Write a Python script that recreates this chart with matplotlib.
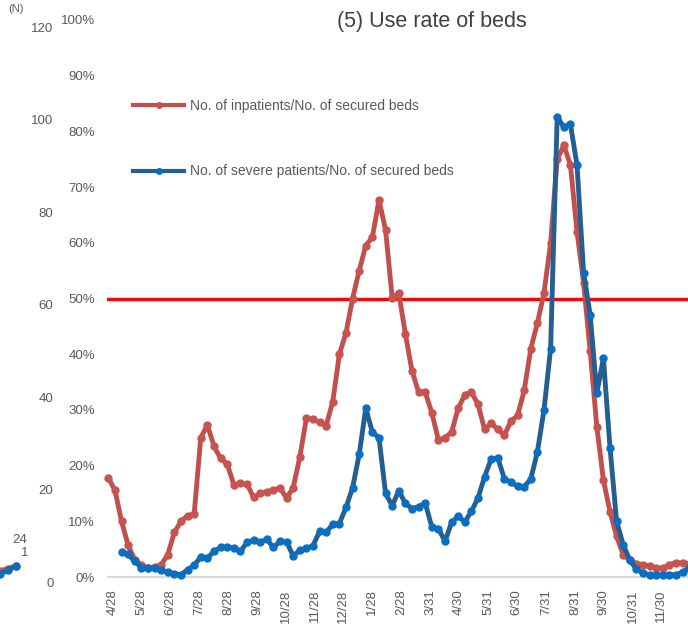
import numpy as np
import pandas as pd
import matplotlib
matplotlib.use("Agg")
import matplotlib.pyplot as plt
import matplotlib.dates as mdates
from matplotlib.lines import Line2D

plt.rcParams['font.family'] = ['Liberation Sans', 'DejaVu Sans']

# weekly values (%) starting 2020-04-23
inpatient_rate = [17.8, 15.6, 10, 5.7, 3.1, 2.2, 1.6, 1.8, 2.2, 4,
                  8, 10, 11, 11.3, 25, 27.3, 23.5, 21.3, 20.3, 16.6,
                  16.8, 16.7, 14.3, 15, 15.3, 15.6, 16, 14.2, 16, 21.5,
                  28.5, 28.3, 27.8, 27.2, 31.5, 40, 43.8, 50, 55, 59.5,
                  61, 67.7, 62.3, 50.1, 51, 43.6, 37, 33.2, 33.2, 29.5,
                  24.6, 25, 26, 30.3, 32.7, 33.2, 31, 26.5, 27.6, 26.5,
                  25.5, 28, 29, 33.5, 41, 45.6, 51, 60, 75, 77.5,
                  74, 62, 52.8, 40.5, 27, 17.4, 11.7, 7.3, 4, 3,
                  2.4, 2.2, 2, 1.6, 1.6, 2.2, 2.6, 2.5, 2.3]
# severe patients start two weeks later
severe_rate = [4.5, 4.1, 2.8, 1.7, 1.6, 1.6, 1.2, 0.9,
               0.6, 0.4, 1.3, 2.1, 3.6, 3.4, 4.6, 5.3, 5.4, 5.2,
               4.6, 6.2, 6.6, 6.2, 6.8, 5.3, 6.4, 6.3, 3.8, 4.8,
               5.2, 5.6, 8.2, 8.0, 9.5, 9.6, 12.5, 16, 22, 30.3,
               26, 25, 15, 12.8, 15.5, 13.2, 12.3, 12.6, 13.3, 9,
               8.7, 6.4, 9.8, 10.9, 9.9, 11.8, 14.2, 18, 21.2, 21.4,
               17.6, 17, 16.3, 16.2, 17.6, 22.5, 30, 41, 82.6, 80.8,
               81.3, 74, 54.6, 47, 33, 39.3, 23.2, 10, 5.8, 3,
               1.4, 0.7, 0.4, 0.4, 0.4, 0.4, 0.4, 0.9, 1.6]
tick_dates = ['2020-04-28', '2020-05-28', '2020-06-28', '2020-07-28', '2020-08-28',
              '2020-09-28', '2020-10-28', '2020-11-28', '2020-12-28', '2021-01-28',
              '2021-02-28', '2021-03-31', '2021-04-30', '2021-05-31', '2021-06-30',
              '2021-07-31', '2021-08-31', '2021-09-30', '2021-10-31', '2021-11-30']
tick_labels = ['4/28', '5/28', '6/28', '7/28', '8/28', '9/28', '10/28', '11/28', '12/28',
               '1/28', '2/28', '3/31', '4/30', '5/31', '6/30', '7/31', '8/31', '9/30',
               '10/31', '11/30']
pct_ticks = list(range(0, 101, 10))
n_ticks = list(range(0, 121, 20))

# bits of the neighbouring chart cut off at the left edge
frag_red = [1.0, 1.6, 2.4]
frag_blue = [0.0, 1.2, 2.2]

dates = pd.date_range('2020-04-23', periods=len(inpatient_rate), freq='7D')
dates_sev = dates[2:2 + len(severe_rate)]

W, H = 688, 642
fig = plt.figure(figsize=(W / 100, H / 100), dpi=100)
ax = fig.add_axes([107.4 / W, (H - 583.7) / H, 592.2 / W, (583.7 - 20) / H])

red_line, red_mk = '#C0504D', '#C9534F'
blue_line, blue_mk = '#255E91', '#0A6FC2'
gray = '#595959'

ax.axhline(0, color='#D9D9D9', lw=1.6, zorder=1)
ax.axhline(50, color='#FF0000', lw=2.4, zorder=2)
ax.plot(dates, inpatient_rate, color=red_line, lw=3.5, marker='o', ms=5,
        mfc=red_mk, mec=red_mk, zorder=3, clip_on=False)
ax.plot(dates_sev, severe_rate, color=blue_line, lw=3.5, marker='o', ms=5,
        mfc=blue_mk, mec=blue_mk, zorder=4, clip_on=False)

ax.set_xlim(pd.Timestamp('2020-04-22'), pd.Timestamp('2022-01-10'))
ax.set_ylim(-1.2, 100)
ax.set_xticks(pd.to_datetime(tick_dates))
ax.set_xticklabels(tick_labels, rotation=90, fontsize=9.5, color=gray)
ax.set_yticks(pct_ticks)
ax.set_yticklabels([f'{t}%' for t in pct_ticks], fontsize=9.5, color=gray)
ax.tick_params(axis='x', length=0, pad=4)
ax.tick_params(axis='y', length=0, pad=9)
for s in ax.spines.values():
    s.set_visible(False)

# count axis (N) on the far left
sec = ax.secondary_yaxis((59 - 107.4) / 592.2,
                         functions=(lambda p: (p + 0.9) * 1.2048,
                                    lambda n: n / 1.2048 - 0.9))
sec.set_yticks(n_ticks)
sec.set_yticklabels([str(t) for t in n_ticks], fontsize=9.5, color=gray)
sec.tick_params(length=0, pad=4)
sec.spines['left'].set_visible(False)

fig.text(8 / W, 1 - 9 / H, '(N)', fontsize=8, color=gray, va='center', ha='left')
fig.text(432 / W, 1 - 22 / H, '(5) Use rate of beds', fontsize=15.5, color='#404040',
         ha='center', va='center')

handles = [Line2D([], [], color=red_line, lw=3, marker='o', ms=4, mfc=red_mk, mec=red_mk),
           Line2D([], [], color=blue_line, lw=3, marker='o', ms=4, mfc=blue_mk, mec=blue_mk)]
ax.legend(handles, ['No. of inpatients/No. of secured beds',
                    'No. of severe patients/No. of secured beds'],
          loc='upper left', bbox_to_anchor=(133 / W, 1 - 99 / H), bbox_transform=fig.transFigure,
          frameon=False, fontsize=10, handlelength=3.7, handletextpad=0.4,
          labelspacing=3.7, borderpad=0, borderaxespad=0, labelcolor=gray)

# fragment of the neighbouring chart
fx = fig.add_axes([0, (H - 576) / H, 16 / W, 16 / H])
fx.plot(range(len(frag_red)), frag_red, color=red_line, lw=3.4, marker='o', ms=5,
        mfc=red_mk, mec=red_mk, clip_on=False)
fx.plot(range(len(frag_blue)), frag_blue, color=blue_line, lw=3.4, marker='o', ms=5,
        mfc=blue_mk, mec=blue_mk, clip_on=False)
fx.set_xlim(0, 2)
fx.set_ylim(-0.5, 4)
fx.axis('off')
fig.text(20 / W, 1 - 540 / H, '24', fontsize=9.5, color=gray, ha='center', va='center')
fig.text(25 / W, 1 - 553 / H, '1', fontsize=9.5, color=gray, ha='center', va='center')

fig.savefig('out.png', dpi=100)
